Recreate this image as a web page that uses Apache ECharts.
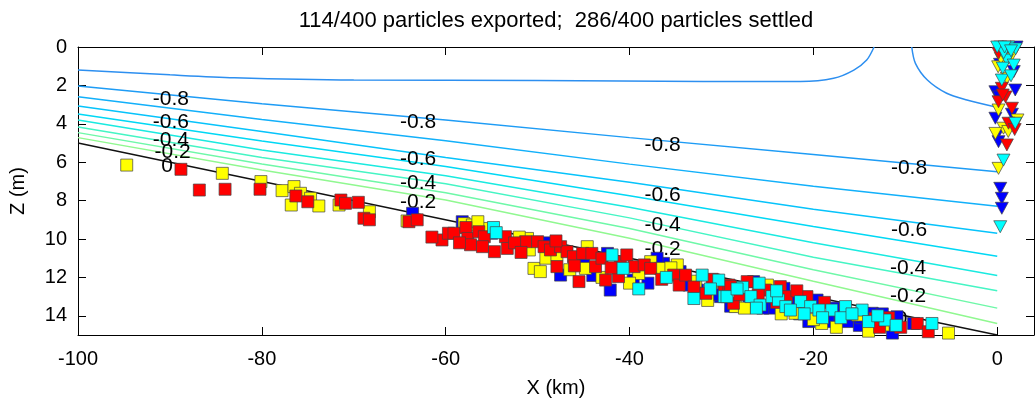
<!DOCTYPE html>
<html>
<head>
<meta charset="utf-8">
<script src="https://cdn.jsdelivr.net/npm/echarts@6.0.0/dist/echarts.min.js"></script>
<style>
  html, body { margin: 0; padding: 0; background: #fff; }
  #chart { width: 1036px; height: 403px; }
</style>
</head>
<body>
<div id="chart"></div>
<script>
const titleText = '114/400 particles exported;  286/400 particles settled';

// contour lines (velocity levels), Z (m) sampled at these X (km)
const contourX = [-100, -80, -60, -40, -20, 0];
const contourLevels = [-0.8, -0.7, -0.6, -0.5, -0.4, -0.3, -0.2, -0.1];
const contourZ = [
    [2.03, 2.95, 3.80, 4.72, 5.60, 6.5],
    [2.59, 3.78, 4.88, 6.10, 7.25, 8.3],
    [3.07, 4.40, 5.75, 7.05, 8.45, 9.7],
    [3.49, 4.90, 6.22, 7.75, 9.35, 10.9],
    [3.80, 5.36, 6.70, 8.35, 10.2, 11.9],
    [4.17, 5.76, 7.12, 8.90, 10.95, 12.7],
    [4.46, 6.09, 7.59, 9.45, 11.6, 13.6],
    [4.72, 6.41, 7.97, 9.96, 12.2, 14.4]
];
// the -0.9 level is split in two pieces that touch the surface
const level09a = [[-100, 1.2], [-90, 1.45], [-83, 1.6], [-70, 1.72], [-50, 1.74], [-32, 1.8],
    [-21.4, 1.8], [-17.8, 1.63], [-15.6, 1.2], [-14.2, 0.68], [-13.4, 0]];
const level09b = [[-9.3, 0], [-8.9, 0.85], [-7.6, 1.72], [-5.5, 2.41], [-3.3, 2.76], [-0.4, 3.1], [0, 3.12]];
const contourColors = ['#2d8ff0', '#1e9cf5', '#12b0fa', '#06c3fb', '#00d8f5', '#1aeae0', '#45f5c4', '#6ef8a8', '#90f890'];

const bedLine = [[-100, 5], [0, 15]];

const contourLabelX = [-89.9, -89.9, -89.9, -89.7, -90.3, -63.0, -63.0, -63.0, -63.0, -36.4, -36.4, -36.4, -36.4, -9.6, -9.6, -9.7, -9.7, -10.4];
const contourLabelZ = [2.71, 3.93, 4.84, 5.47, 6.2, 3.93, 5.83, 7.08, 8.07, 5.10, 7.71, 9.27, 10.52, 6.33, 9.53, 11.51, 12.97, 14.2];
const contourLabelText = ['-0.8', '-0.6', '-0.4', '-0.2', '0', '-0.8', '-0.6', '-0.4', '-0.2', '-0.8', '-0.6', '-0.4', '-0.2', '-0.8', '-0.6', '-0.4', '-0.2', '0'];

// settled particles (squares)
const settledBlue = [[-63.6, 8.66], [-58.2, 9.1], [-47.5, 11.88], [-42.4, 10.75], [-42.1, 12.66], [-39.6, 12.14],
    [-36.3, 11.27], [-32.6, 12.66], [-30.1, 13.0], [-30.7, 12.9], [-27.0, 13.2], [-26.5, 12.22], [-24.7, 13.6],
    [-23.2, 12.57], [-19.6, 13.18], [-18.2, 14.3], [-17.1, 13.96], [-16.3, 14.3], [-13.6, 13.87], [-10.9, 14.05],
    [-11.4, 14.9], [-9.1, 14.4], [-44.0, 11.9], [-38.0, 12.3], [-33.5, 12.4], [-21.5, 13.9], [-15.0, 14.5],
    [-55.0, 9.7], [-49.0, 10.2], [-45.0, 11.2], [-37.0, 11.0], [-34.5, 11.7], [-29.0, 13.5], [-25.5, 13.6],
    [-22.0, 13.3], [-20.5, 14.3], [-17.8, 13.6], [-14.8, 14.1], [-12.5, 13.9]];
const settledYellow = [[-94.7, 6.15], [-84.3, 6.58], [-80.1, 7.01], [-77.8, 7.48], [-76.5, 7.27], [-75.8, 7.62],
    [-76.8, 8.23], [-74.7, 7.88], [-73.8, 8.28], [-71.6, 8.23], [-68.3, 8.58], [-64.2, 9.06], [-58.0, 9.2],
    [-57.1, 9.27], [-55.5, 9.45], [-51.1, 9.97], [-50.9, 10.57], [-50.4, 11.53], [-49.7, 11.7], [-49.1, 11.0],
    [-47.9, 10.83], [-44.8, 11.53], [-44.6, 10.4], [-37.7, 11.18], [-36.6, 11.53], [-34.8, 11.35], [-30.5, 12.22],
    [-30.8, 12.14], [-28.5, 13.52], [-26.7, 13.26], [-25.0, 12.4], [-22.0, 13.87], [-19.1, 14.4], [-15.2, 13.96],
    [-12.4, 14.48], [-5.3, 14.9], [-43.0, 12.0], [-39.0, 11.8], [-32.8, 12.2],
    [-56.5, 9.1], [-52.0, 9.9], [-46.5, 11.6], [-40.0, 12.3], [-35.5, 11.5], [-31.5, 13.2], [-27.5, 13.6],
    [-23.5, 13.9], [-20.0, 14.2], [-17.5, 14.6], [-14.0, 14.8]];
const settledRed = [[-88.8, 6.37], [-86.8, 7.45], [-84.0, 7.41], [-80.2, 7.41], [-76.3, 7.76], [-75.0, 8.06],
    [-71.4, 7.97], [-70.9, 8.14], [-69.5, 8.09], [-68.9, 8.92], [-68.3, 9.0], [-64.0, 9.1], [-63.1, 9.0],
    [-60.4, 10.05], [-59.7, 9.7], [-59.1, 9.7], [-57.8, 9.4], [-57.6, 9.97], [-57.3, 10.3], [-56.4, 9.62],
    [-55.8, 9.88], [-54.7, 10.66], [-53.5, 9.88], [-53.3, 10.49], [-51.3, 10.14], [-50.0, 10.14], [-49.3, 10.4],
    [-48.6, 10.57], [-47.9, 11.44], [-47.5, 10.4], [-46.8, 10.66], [-46.1, 10.92], [-45.5, 12.22], [-45.1, 10.75],
    [-44.1, 10.75], [-43.7, 11.44], [-42.6, 12.14], [-41.2, 11.96], [-41.0, 11.18], [-40.3, 10.83], [-39.5, 11.44],
    [-38.4, 11.35], [-37.7, 11.53], [-35.2, 11.88], [-34.6, 12.4], [-33.9, 11.88], [-31.7, 12.83], [-29.7, 12.57],
    [-29.2, 12.4], [-29.0, 12.48], [-28.7, 13.35], [-27.2, 12.22], [-25.2, 12.66], [-23.6, 12.48], [-22.9, 13.0],
    [-20.7, 13.0], [-13.3, 14.13], [-10.5, 14.6], [-8.7, 14.4], [-7.5, 14.83],
    [-61.5, 9.9], [-58.5, 10.2], [-56.0, 10.4], [-52.5, 10.2], [-51.8, 10.7], [-48.0, 10.1], [-46.0, 11.4],
    [-43.0, 11.0], [-42.0, 11.5], [-36.5, 12.1], [-33.0, 12.5], [-31.0, 12.1], [-28.0, 12.9], [-26.0, 12.9],
    [-24.0, 13.3], [-21.8, 12.7], [-18.8, 13.3], [-16.0, 13.9], [-12.8, 14.6], [-11.8, 14.1]];
const settledCyan = [[-54.8, 9.4], [-54.5, 9.67], [-41.9, 10.83], [-40.7, 11.53], [-32.1, 11.88], [-29.7, 13.0],
    [-30.3, 12.14], [-29.4, 13.0], [-27.7, 12.52], [-26.8, 13.0], [-25.9, 12.3], [-25.8, 13.44], [-24.5, 13.0],
    [-23.8, 13.18], [-23.0, 13.52], [-21.4, 13.26], [-20.3, 13.52], [-19.4, 13.7], [-18.0, 13.7], [-16.5, 13.52],
    [-14.7, 13.7], [-14.0, 14.3], [-12.2, 14.22], [-7.1, 14.4],
    [-39.0, 12.6], [-36.0, 12.0], [-33.0, 13.1], [-31.2, 12.6], [-28.3, 12.6], [-26.2, 13.6], [-24.0, 12.7],
    [-22.5, 13.7], [-21.0, 13.9], [-19.0, 14.1], [-17.0, 14.1], [-15.8, 13.9], [-13.0, 14.0], [-11.0, 14.5]];

// exported particles (down triangles) at the outlet
const exportedBlue = [[2.1, 0.0], [1.8, 1.28], [1.96, 2.24], [-0.2, 2.33], [-0.2, 3.71], [-0.03, 4.58], [0.14, 4.93],
    [0.33, 7.36], [0.5, 7.88], [0.5, 8.4], [0.3, 0.9], [0.2, 2.6], [1.6, 3.5]];
const exportedYellow = [[1.6, 0.42], [0.1, 1.03], [1.05, 1.63], [0.14, 3.28], [0.68, 4.23], [-0.2, 4.5], [0.14, 6.32],
    [2.2, 3.8], [0.9, 0.8], [0.4, 0.6], [1.2, 4.4]];
const exportedRed = [[0.14, 0.33], [0.5, 2.15], [0.14, 2.85], [1.6, 3.19], [1.23, 3.97], [1.05, 5.1], [0.9, 2.6],
    [0.6, 2.5], [1.9, 4.3]];
const exportedCyan = [[0.33, 0.0], [1.2, 0.0], [2.0, 0.1], [1.05, 0.68], [1.8, 0.94], [0.5, 1.72], [1.96, 3.97],
    [0.68, 5.89], [0.33, 9.36], [0.7, 0.3], [1.5, 1.5], [0.0, 0.0], [0.8, 0.0], [1.5, 0.2], [0.6, 1.1]];

const font = 'Liberation Sans, Arial, sans-serif';

const chartInstance = echarts.init(document.getElementById('chart'), null, { renderer: 'canvas' });

const series = [];
series.push({ type: 'line', data: level09a, symbol: 'none', smooth: 0.3, silent: true, z: 2, lineStyle: { color: contourColors[0], width: 1.5 } });
series.push({ type: 'line', data: level09b, symbol: 'none', smooth: 0.3, silent: true, z: 2, lineStyle: { color: contourColors[0], width: 1.5 } });
contourLevels.forEach((lev, i) => {
    series.push({
        name: String(lev),
        type: 'line',
        data: contourX.map((x, j) => [x, contourZ[i][j]]),
        symbol: 'none',
        silent: true,
        z: 2,
        lineStyle: { color: contourColors[i + 1], width: 1.5 }
    });
});
series.push({ type: 'line', data: bedLine, symbol: 'none', silent: true, z: 2, lineStyle: { color: '#111', width: 1.3 } });
series.push({
    type: 'scatter',
    data: contourLabelX.map((x, i) => [x, contourLabelZ[i]]),
    symbolSize: 0,
    silent: true,
    z: 2,
    itemStyle: { opacity: 1 },
    label: {
        show: true,
        position: 'inside',
        formatter: p => contourLabelText[p.dataIndex],
        fontFamily: font,
        fontSize: 21,
        color: '#000',
        opacity: 1,
        textBorderWidth: 0
    }
});

const squares = (data, color) => ({
    type: 'scatter', data, symbol: 'rect', symbolSize: 12, clip: false, silent: true, z: 3,
    itemStyle: { color, borderColor: '#444', borderWidth: 0.7, opacity: 1 }
});
const triangles = (data, color) => ({
    type: 'scatter', data, symbol: 'triangle', symbolRotate: 180, symbolSize: [13, 12], clip: false, silent: true, z: 3,
    itemStyle: { color, borderColor: '#444', borderWidth: 0.7, opacity: 1 }
});
series.push(squares(settledBlue, '#0000ff'));
series.push(squares(settledYellow, '#ffff00'));
series.push(squares(settledRed, '#ff0000'));
series.push(squares(settledCyan, '#00ffff'));
series.push(triangles(exportedBlue, '#0000ff'));
series.push(triangles(exportedYellow, '#ffff00'));
series.push(triangles(exportedRed, '#ff0000'));
series.push(triangles(exportedCyan, '#00ffff'));

const axisCommon = {
    type: 'value',
    axisLine: { show: true, onZero: false, lineStyle: { color: '#000', width: 1 } },
    axisTick: { show: true, inside: true, length: 8, lineStyle: { color: '#000' } },
    splitLine: { show: false }
};

chartInstance.setOption({
    backgroundColor: '#fff',
    animation: false,
    title: {
        text: titleText,
        left: 551,
        top: 5,
        textAlign: 'center',
        textStyle: { fontFamily: font, fontSize: 22, fontWeight: 'normal', color: '#000' }
    },
    grid: { left: 77, right: 2, top: 47, bottom: 68, containLabel: false },
    xAxis: [
        Object.assign({}, axisCommon, {
            min: -100, max: 4, interval: 20, position: 'bottom',
            name: 'X (km)', nameLocation: 'middle', nameGap: 43,
            nameTextStyle: { fontFamily: font, fontSize: 20, color: '#000' },
            axisLabel: { fontFamily: font, fontSize: 20, color: '#000', margin: 14, showMaxLabel: false }
        }),
        Object.assign({}, axisCommon, {
            min: -100, max: 4, interval: 20, position: 'top',
            axisLabel: { show: false }
        })
    ],
    yAxis: [
        Object.assign({}, axisCommon, {
            min: 0, max: 15, interval: 2, inverse: true, position: 'left',
            name: 'Z (m)', nameLocation: 'middle', nameGap: 50,
            nameTextStyle: { fontFamily: font, fontSize: 20, color: '#000' },
            axisLabel: { fontFamily: font, fontSize: 20, color: '#000', margin: 11, showMaxLabel: false }
        }),
        Object.assign({}, axisCommon, {
            min: 0, max: 15, interval: 2, inverse: true, position: 'right',
            axisLabel: { show: false }
        })
    ],
    series
});
</script>
</body>
</html>
